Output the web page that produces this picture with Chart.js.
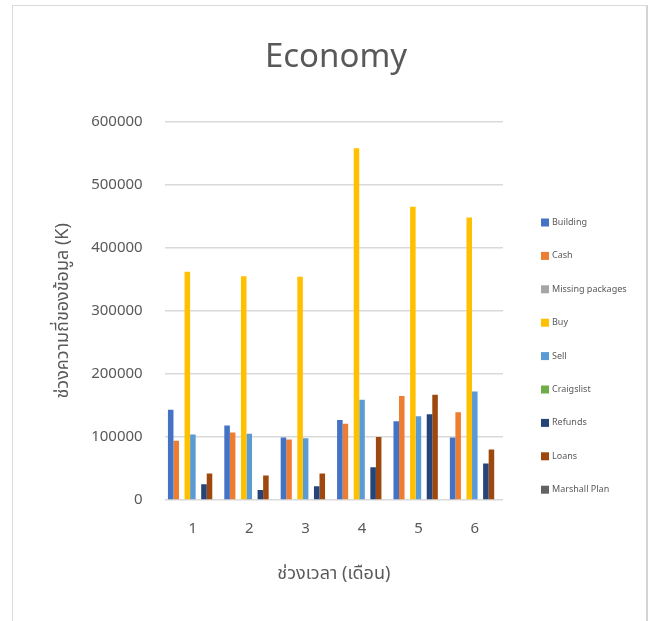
<!DOCTYPE html>
<html>
<head>
<meta charset="utf-8">
<script src="https://cdn.jsdelivr.net/npm/chart.js@4.4.0/dist/chart.umd.min.js"></script>
<style>
    body { margin: 0; background: #fff; }
    #frame { position: absolute; left: 12px; top: 5px; width: 633px; height: 640px; border: 1px solid #d9d9d9; border-right: 2px solid #d4d4d4; }
    #myChart { position: absolute; left: 0; top: 0; }
</style>
</head>
<body>
<div id="frame"></div>
<canvas id="myChart" width="652" height="621"></canvas>
<script>
/** 横坐标 */
var labels = ['1', '2', '3', '4', '5', '6']
/** 纵坐标 数据 */
var building = [143000, 118000, 99000, 127000, 125000, 99000]
var cash = [94000, 107000, 96000, 121000, 165000, 139000]
var missingPackages = [0, 0, 0, 0, 0, 0]
var buy = [362000, 355000, 354000, 558000, 465000, 448000]
var sell = [104000, 105000, 98000, 159000, 133000, 172000]
var craigslist = [0, 0, 0, 0, 0, 0]
var refunds = [25000, 16000, 22000, 52000, 136000, 58000]
var loans = [42000, 39000, 42000, 100000, 167000, 80000]
var marshallPlan = [0, 0, 0, 0, 0, 0]

var font = "'Noto Sans', 'Noto Sans Thai', sans-serif"
var textColor = '#595959'

function makeSet(label, data, color) {
    return {
        label: label,
        data: data,
        backgroundColor: color,
        borderWidth: 0,
        categoryPercentage: 0.885,
        barPercentage: 1.0
    }
}

/** 图例 (画在右边) */
var sideLegend = {
    id: 'sideLegend',
    afterDraw: function (chart) {
        var c = chart.ctx
        var x = chart.chartArea.right + 38
        var y0 = chart.chartArea.top + 100.8
        c.save()
        c.font = '9px ' + font
        c.textBaseline = 'middle'
        c.textAlign = 'left'
        chart.data.datasets.forEach(function (ds, i) {
            var y = y0 + i * 33.4
            c.fillStyle = ds.backgroundColor
            c.fillRect(x, y - 4, 8, 8)
            c.fillStyle = textColor
            c.fillText(ds.label, x + 11, y)
        })
        c.restore()
    }
}

var data = {
    labels: labels,
    datasets: [
        makeSet('Building', building, '#4472C4'),
        makeSet('Cash', cash, '#ED7D31'),
        makeSet('Missing packages', missingPackages, '#A5A5A5'),
        makeSet('Buy', buy, '#FFC000'),
        makeSet('Sell', sell, '#5B9BD5'),
        makeSet('Craigslist', craigslist, '#70AD47'),
        makeSet('Refunds', refunds, '#264478'),
        makeSet('Loans', loans, '#9E480E'),
        makeSet('Marshall Plan', marshallPlan, '#636363')
    ]
}

var ctx = document.getElementById('myChart').getContext('2d')
var myChart = new Chart(ctx, {
    type: 'bar',
    data: data,
    plugins: [sideLegend],
    options: {
        responsive: false,
        animation: false,
        layout: { padding: { left: 27, right: 7, top: 0, bottom: 0 } },
        plugins: {
            title: {
                display: true,
                text: 'Economy',
                color: textColor,
                font: { family: font, size: 33, weight: 'normal' },
                padding: { top: 38, bottom: 44.1 }
            },
            legend: { display: false },
            tooltip: { enabled: false }
        },
        scales: {
            x: {
                grid: { display: false, drawTicks: false },
                border: { display: false },
                ticks: { color: textColor, font: { family: font, size: 15 }, padding: 20 },
                title: {
                    display: true,
                    text: 'ช่วงเวลา (เดือน)',
                    color: textColor,
                    font: { family: font, size: 18 },
                    padding: { top: 5.2, bottom: 36.2 }
                }
            },
            y: {
                min: 0,
                max: 600000,
                grid: { color: '#d9d9d9', lineWidth: 1.5, drawTicks: false },
                border: { display: false },
                ticks: {
                    stepSize: 100000,
                    color: textColor,
                    font: { family: font, size: 15 },
                    padding: 22,
                    callback: function (v) { return String(v) }
                },
                title: {
                    display: true,
                    text: 'ช่วงความถี่ของข้อมูล (K)',
                    color: textColor,
                    font: { family: font, size: 18 },
                    padding: { top: 25.2, bottom: -4.6 }
                }
            },
            /** 右边留给图例的空位 */
            yGap: {
                type: 'linear',
                axis: 'y',
                position: 'right',
                display: true,
                grid: { display: false, drawTicks: false },
                border: { display: false },
                ticks: { display: false },
                afterFit: function (scale) { scale.width = 142 }
            }
        }
    }
})
</script>
</body>
</html>
